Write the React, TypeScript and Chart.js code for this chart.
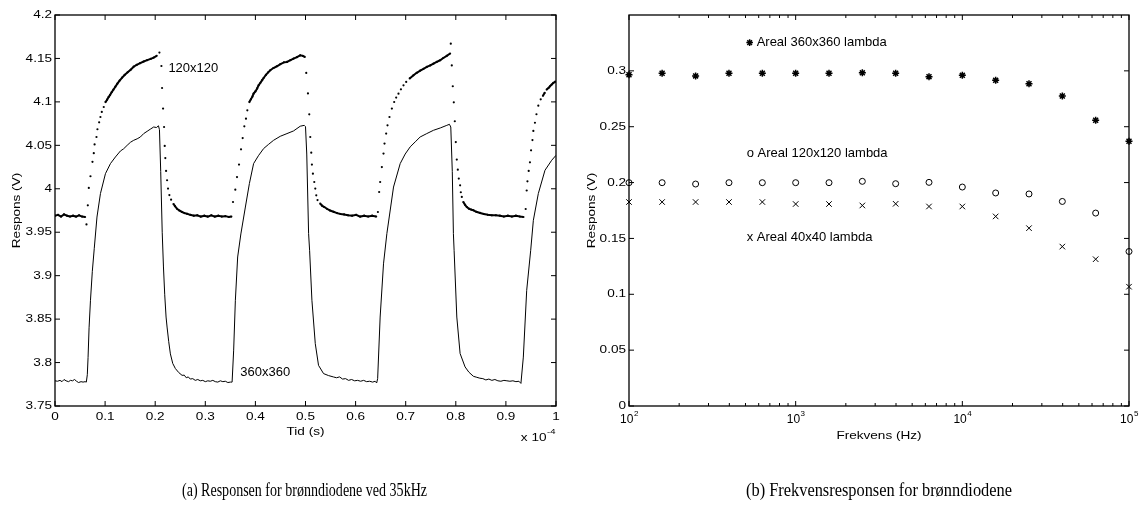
import React, { useEffect, useRef } from 'react';
import { Chart, registerables } from 'chart.js';

Chart.register(...registerables);

// ---------- (a) time response, x in units of 1e-4 s ----------
const dotTime = [
  0.000, 0.006, 0.012, 0.018, 0.024, 0.030, 0.036, 0.042, 0.048, 0.054, 0.060,
  0.0628, 0.0655, 0.0675, 0.0708, 0.0748, 0.0774, 0.0790, 0.0828, 0.0847, 0.0881, 0.0907, 0.0934, 0.0973, 0.1007,
  0.104, 0.107, 0.110, 0.113, 0.1165, 0.1205, 0.1245, 0.129, 0.134, 0.139, 0.145, 0.151, 0.157, 0.163, 0.170,
  0.177, 0.184, 0.191, 0.197, 0.203, 0.2084,
  0.2124, 0.2137, 0.2157, 0.2177, 0.2190, 0.2202, 0.2217, 0.2237, 0.2256, 0.2283, 0.2317, 0.2365, 0.2395,
  0.2436, 0.248, 0.2536, 0.2586, 0.2636, 0.270, 0.277, 0.284, 0.291, 0.298, 0.305, 0.312, 0.319, 0.326,
  0.333, 0.340, 0.347, 0.352,
  0.3553, 0.3599, 0.3633, 0.3673, 0.3713, 0.3746, 0.3779, 0.3812, 0.3839, 0.3879,
  0.391, 0.394, 0.3964, 0.400, 0.4035, 0.4064, 0.410, 0.4135, 0.4164, 0.421, 0.4255, 0.4297, 0.436, 0.443,
  0.450, 0.457, 0.463, 0.470, 0.4762, 0.483, 0.4895, 0.4945, 0.4985,
  0.5015, 0.5049, 0.5075, 0.5095, 0.5115, 0.5128, 0.5148, 0.5175, 0.5195, 0.5215, 0.524, 0.5294, 0.533,
  0.5375, 0.5427, 0.549, 0.556, 0.563, 0.570, 0.577, 0.585, 0.593, 0.601, 0.609, 0.617, 0.625, 0.633, 0.641,
  0.6445, 0.647, 0.649, 0.6524, 0.6557, 0.6577, 0.661, 0.6637, 0.6676, 0.6724, 0.677,
  0.681, 0.6856, 0.6905, 0.6956, 0.701, 0.708, 0.7155, 0.722, 0.729, 0.7355, 0.7422, 0.749, 0.7555, 0.762,
  0.7687, 0.775, 0.782, 0.7886, 0.790,
  0.792, 0.794, 0.796, 0.798, 0.800, 0.802, 0.804, 0.806, 0.8086, 0.810, 0.812, 0.815, 0.8185, 0.822,
  0.8265, 0.831, 0.835, 0.841, 0.8485, 0.856, 0.864, 0.872, 0.880, 0.888, 0.896, 0.904, 0.912, 0.920, 0.928, 0.935,
  0.9395, 0.9415, 0.943, 0.9455, 0.948, 0.9502, 0.953, 0.9548, 0.958, 0.961, 0.9647, 0.9695, 0.974, 0.9775,
  0.9814, 0.985, 0.988, 0.9915, 0.9946, 0.9986,
];
const dotVolt = [
  3.969, 3.970, 3.968, 3.9705, 3.969, 3.968, 3.969, 3.968, 3.9695, 3.968, 3.9675,
  3.959, 3.981, 4.001, 4.0144, 4.031, 4.041, 4.051, 4.0596, 4.0685, 4.0765, 4.0826, 4.0884, 4.0941, 4.0998,
  4.1025, 4.1055, 4.108, 4.111, 4.114, 4.1175, 4.121, 4.1245, 4.128, 4.131, 4.134, 4.137, 4.1405, 4.1425, 4.1445,
  4.1465, 4.148, 4.1495, 4.151, 4.153, 4.1567,
  4.1413, 4.116, 4.0923, 4.0711, 4.0493, 4.0353, 4.0205, 4.0098, 4.0002, 3.9928, 3.9875, 3.9825, 3.980,
  3.977, 3.975, 3.9733, 3.972, 3.9712, 3.970, 3.969, 3.9695, 3.968, 3.969, 3.968, 3.9695, 3.968, 3.969,
  3.968, 3.9685, 3.9675, 3.968,
  3.9848, 3.999, 4.0135, 4.0279, 4.0454, 4.0584, 4.0719, 4.0807, 4.0903, 4.0998,
  4.103, 4.106, 4.1095, 4.112, 4.1155, 4.1191, 4.122, 4.125, 4.1275, 4.131, 4.134, 4.1364, 4.139, 4.141,
  4.1435, 4.1455, 4.146, 4.148, 4.1498, 4.1515, 4.1536, 4.153, 4.1517,
  4.1333, 4.1097, 4.0857, 4.0596, 4.0416, 4.0278, 4.0174, 4.0078, 4.0002, 3.9925, 3.987, 3.983, 3.9805,
  3.979, 3.977, 3.975, 3.9735, 3.972, 3.971, 3.9705, 3.9695, 3.969, 3.970, 3.968, 3.969, 3.968, 3.969, 3.968,
  3.9733, 3.9963, 4.0078, 4.025, 4.0405, 4.052, 4.0635, 4.073, 4.0826, 4.0923, 4.0999,
  4.105, 4.1095, 4.1145, 4.1191, 4.123, 4.127, 4.1306, 4.1335, 4.136, 4.138, 4.1402, 4.142, 4.144, 4.146,
  4.1479, 4.1505, 4.153, 4.1557, 4.167,
  4.142, 4.118, 4.0995, 4.0777, 4.0538, 4.0336, 4.022, 4.0117, 4.004, 3.996, 3.9906, 3.9848, 3.9815, 3.979,
  3.977, 3.976, 3.9753, 3.9735, 3.9722, 3.971, 3.970, 3.9695, 3.9695, 3.969, 3.968, 3.969, 3.968, 3.969, 3.968, 3.9675,
  3.9767, 3.998, 4.0086, 4.0205, 4.0305, 4.0443, 4.056, 4.0666, 4.076, 4.0858, 4.0957, 4.103, 4.107, 4.1105,
  4.1142, 4.116, 4.118, 4.12, 4.1218, 4.1233,
];

const lineTime = [
  0.000, 0.005, 0.010, 0.014, 0.018, 0.022, 0.027, 0.031, 0.035, 0.039, 0.043, 0.047, 0.052, 0.056, 0.060, 0.0625,
  0.0645, 0.0660, 0.0680, 0.0708, 0.0745, 0.0784, 0.0838, 0.0907, 0.1007, 0.1107, 0.1206, 0.1306, 0.137, 0.144,
  0.1506, 0.1571, 0.164, 0.1704, 0.177, 0.1838, 0.190, 0.197, 0.2025, 0.2065, 0.2085,
  0.2110, 0.2140, 0.2165, 0.219, 0.2217, 0.2237, 0.2270, 0.2303, 0.235, 0.2403, 0.247, 0.2536,
  0.258, 0.262, 0.266, 0.270, 0.275, 0.280, 0.285, 0.290, 0.295, 0.300, 0.305, 0.310, 0.315, 0.320, 0.325,
  0.330, 0.335, 0.340, 0.345, 0.350, 0.3535,
  0.3566, 0.3600, 0.3646, 0.371, 0.380, 0.388, 0.3964, 0.406, 0.4164, 0.426, 0.4363, 0.4496, 0.463, 0.4762,
  0.4895, 0.4975, 0.5000,
  0.5025, 0.5062, 0.5082, 0.5128, 0.5195, 0.526, 0.536, 0.546, 0.556, 0.562, 0.568, 0.574, 0.580, 0.586,
  0.592, 0.598, 0.604, 0.610, 0.616, 0.622, 0.628, 0.634, 0.639, 0.642, 0.6440,
  0.6490, 0.6557, 0.6624, 0.6757, 0.689, 0.699, 0.7089, 0.719, 0.7288, 0.742, 0.7554, 0.769, 0.782, 0.7873, 0.7900,
  0.7930, 0.7952, 0.7966, 0.8020, 0.8086, 0.8185, 0.826, 0.8351, 0.842, 0.848, 0.854, 0.860, 0.866, 0.872,
  0.878, 0.884, 0.890, 0.896, 0.902, 0.908, 0.914, 0.920, 0.926, 0.930,
  0.9348, 0.9415, 0.9495, 0.9548, 0.9647, 0.978, 0.9914, 1.000,
];
const lineVolt = [
  3.779, 3.7785, 3.7795, 3.778, 3.7805, 3.779, 3.778, 3.7795, 3.779, 3.7805, 3.7785, 3.777, 3.778, 3.7775, 3.778, 3.7775,
  3.786, 3.806, 3.84, 3.8717, 3.905, 3.9315, 3.9675, 3.9945, 4.0174, 4.029, 4.0366, 4.0435, 4.046, 4.050,
  4.0535, 4.0558, 4.0575, 4.0596, 4.0635, 4.0661, 4.0685, 4.0711, 4.0705, 4.0725, 4.068,
  4.02, 3.95, 3.91, 3.878, 3.8524, 3.8409, 3.824, 3.81, 3.799, 3.7931, 3.7885, 3.7853,
  3.7855, 3.7825, 3.7835, 3.781, 3.7815, 3.7795, 3.7805, 3.779, 3.7795, 3.778, 3.779, 3.7785, 3.7795, 3.778, 3.7775,
  3.779, 3.778, 3.7785, 3.777, 3.7775, 3.7775,
  3.8143, 3.8717, 3.9215, 3.948, 3.979, 4.006, 4.029, 4.038, 4.0463, 4.051, 4.0558, 4.0604, 4.0635, 4.0666,
  4.072, 4.073, 4.0715,
  4.04, 3.9484, 3.9292, 3.8717, 3.8218, 3.7968, 3.7873, 3.785, 3.7834, 3.7825, 3.7835, 3.781, 3.7815, 3.7795,
  3.7805, 3.779, 3.7795, 3.7785, 3.7795, 3.778, 3.7785, 3.7775, 3.7785, 3.7765, 3.7815,
  3.8524, 3.9136, 3.9484, 4.002, 4.029, 4.040, 4.0482, 4.054, 4.0596, 4.0635, 4.0673, 4.070, 4.073, 4.0742, 4.0711,
  4.02, 3.9484, 3.9292, 3.8524, 3.8104, 3.795, 3.789, 3.7842, 3.783, 3.782, 3.7815, 3.780, 3.781, 3.7795,
  3.7805, 3.779, 3.7785, 3.7795, 3.779, 3.7785, 3.779, 3.778, 3.7785, 3.776,
  3.8063, 3.8831, 3.9292, 3.9637, 3.9945, 4.0213, 4.0328, 4.0385,
];

const timeTicks = [0, 0.1, 0.2, 0.3, 0.4, 0.5, 0.6, 0.7, 0.8, 0.9, 1];
const timeTickLabels = ['0', '0.1', '0.2', '0.3', '0.4', '0.5', '0.6', '0.7', '0.8', '0.9', '1'];
const voltTicks = [3.75, 3.8, 3.85, 3.9, 3.95, 4, 4.05, 4.1, 4.15, 4.2];
const voltTickLabels = ['3.75', '3.8', '3.85', '3.9', '3.95', '4', '4.05', '4.1', '4.15', '4.2'];

// ---------- (b) frequency response ----------
const freqHz = [100, 158, 251, 398, 631, 1000, 1585, 2512, 3981, 6310, 10000, 15849, 25119, 39811, 63096, 100000];
const resp360 = [0.2965, 0.2978, 0.2955, 0.2978, 0.2978, 0.2978, 0.2978, 0.2982, 0.2978, 0.2948, 0.296, 0.2915, 0.2885, 0.2775, 0.2558, 0.237];
const resp120 = [0.1999, 0.1999, 0.1987, 0.1999, 0.1999, 0.1999, 0.1999, 0.2011, 0.199, 0.2002, 0.196, 0.1907, 0.1898, 0.1831, 0.1727, 0.1383];
const resp40 = [0.1826, 0.1826, 0.1826, 0.1826, 0.1826, 0.1808, 0.1808, 0.1795, 0.181, 0.1786, 0.1786, 0.1697, 0.1592, 0.1427, 0.1314, 0.1068];

const respTicks = [0, 0.05, 0.1, 0.15, 0.2, 0.25, 0.3];
const respTickLabels = ['0', '0.05', '0.1', '0.15', '0.2', '0.25', '0.3'];
const freqMajor = [100, 1000, 10000, 100000];
const freqMajorExp = ['2', '3', '4', '5'];
const freqMinor = [200, 300, 400, 500, 600, 700, 800, 900, 2000, 3000, 4000, 5000, 6000, 7000, 8000, 9000,
  20000, 30000, 40000, 50000, 60000, 70000, 80000, 90000];

const labels360 = 'Areal 360x360 lambda';
const labels120 = 'o Areal 120x120 lambda';
const labels40 = 'x Areal 40x40 lambda';
const captionA = '(a) Responsen for brønndiodene ved 35kHz';
const captionB = '(b) Frekvensresponsen for brønndiodene';

// ---------- drawing helpers ----------
const SANS = '"Liberation Sans", Arial, Helvetica, sans-serif';
const SX = 1.18;

function txt(ctx: CanvasRenderingContext2D, s: string, x: number, y: number, size: number,
  align: CanvasTextAlign = 'center', sx = SX, rot = false) {
  ctx.save();
  ctx.translate(x, y);
  if (rot) ctx.rotate(-Math.PI / 2);
  ctx.scale(sx, 1);
  ctx.font = `${size}px ${SANS}`;
  ctx.textAlign = align;
  ctx.textBaseline = 'middle';
  ctx.fillStyle = '#000';
  ctx.fillText(s, 0, 0);
  ctx.restore();
}

function caption(ctx: CanvasRenderingContext2D, s: string, cx: number, cy: number, size: number, width: number) {
  ctx.save();
  ctx.font = `${size}px "Liberation Serif", "Times New Roman", serif`;
  const w = ctx.measureText(s).width;
  ctx.translate(cx, cy);
  ctx.scale(width / w, 1);
  ctx.textAlign = 'center';
  ctx.textBaseline = 'middle';
  ctx.fillStyle = '#000';
  ctx.fillText(s, 0, 0);
  ctx.restore();
}

function frame(ctx: CanvasRenderingContext2D, a: any) {
  ctx.save();
  ctx.strokeStyle = '#000';
  ctx.lineWidth = 1.3;
  ctx.strokeRect(a.left, a.top, a.right - a.left, a.bottom - a.top);
  ctx.restore();
}

const leftPlugin = {
  id: 'leftDecor',
  afterDraw(chart: any) {
    const ctx: CanvasRenderingContext2D = chart.ctx;
    const a = chart.chartArea;
    const xs = chart.scales.x;
    const ys = chart.scales.y;
    frame(ctx, a);
    ctx.save();
    ctx.strokeStyle = '#000';
    ctx.lineWidth = 1;
    ctx.beginPath();
    timeTicks.forEach((v) => {
      const p = xs.getPixelForValue(v);
      ctx.moveTo(p, a.bottom); ctx.lineTo(p, a.bottom - 5);
      ctx.moveTo(p, a.top); ctx.lineTo(p, a.top + 5);
    });
    voltTicks.forEach((v) => {
      const p = ys.getPixelForValue(v);
      ctx.moveTo(a.left, p); ctx.lineTo(a.left + 5, p);
      ctx.moveTo(a.right, p); ctx.lineTo(a.right - 5, p);
    });
    ctx.stroke();
    ctx.restore();
    timeTicks.forEach((v, i) => txt(ctx, timeTickLabels[i], xs.getPixelForValue(v), a.bottom + 10.5, 11.5));
    voltTicks.forEach((v, i) => txt(ctx, voltTickLabels[i], a.left - 3, ys.getPixelForValue(v), 11.5, 'right'));
    txt(ctx, 'Tid (s)', (a.left + a.right) / 2, a.bottom + 26, 11.5);
    txt(ctx, 'x 10', a.right - 9.5, a.bottom + 32, 11.5, 'right');
    txt(ctx, '-4', a.right - 9, a.bottom + 26, 8, 'left');
    txt(ctx, 'Respons (V)', 17, (a.top + a.bottom) / 2, 11.5, 'center', SX, true);
    txt(ctx, '120x120', xs.getPixelForValue(0.2263), ys.getPixelForValue(4.1387), 13, 'left', 1);
    txt(ctx, '360x360', xs.getPixelForValue(0.3699), ys.getPixelForValue(3.789), 13, 'left', 1);
    caption(ctx, captionA, 304.5, 491, 19, 245);
  },
};

function drawStar(ctx: CanvasRenderingContext2D, x: number, y: number, r: number) {
  const d = r * Math.SQRT1_2;
  ctx.save();
  ctx.strokeStyle = '#000';
  ctx.lineWidth = 1.5;
  ctx.beginPath();
  ctx.moveTo(x - r, y); ctx.lineTo(x + r, y);
  ctx.moveTo(x, y - r); ctx.lineTo(x, y + r);
  ctx.moveTo(x - d, y - d); ctx.lineTo(x + d, y + d);
  ctx.moveTo(x - d, y + d); ctx.lineTo(x + d, y - d);
  ctx.stroke();
  ctx.restore();
}

const rightPlugin = {
  id: 'rightDecor',
  afterDraw(chart: any) {
    const ctx: CanvasRenderingContext2D = chart.ctx;
    const a = chart.chartArea;
    const xs = chart.scales.x;
    const ys = chart.scales.y;
    frame(ctx, a);
    ctx.save();
    ctx.strokeStyle = '#000';
    ctx.lineWidth = 1;
    ctx.beginPath();
    freqMajor.forEach((v) => {
      const p = xs.getPixelForValue(v);
      ctx.moveTo(p, a.bottom); ctx.lineTo(p, a.bottom - 5);
      ctx.moveTo(p, a.top); ctx.lineTo(p, a.top + 5);
    });
    freqMinor.forEach((v) => {
      const p = xs.getPixelForValue(v);
      ctx.moveTo(p, a.bottom); ctx.lineTo(p, a.bottom - 3);
      ctx.moveTo(p, a.top); ctx.lineTo(p, a.top + 3);
    });
    respTicks.forEach((v) => {
      const p = ys.getPixelForValue(v);
      ctx.moveTo(a.left, p); ctx.lineTo(a.left + 5, p);
      ctx.moveTo(a.right, p); ctx.lineTo(a.right - 5, p);
    });
    ctx.stroke();
    ctx.restore();
    respTicks.forEach((v, i) => txt(ctx, respTickLabels[i], a.left - 3, ys.getPixelForValue(v), 11.5, 'right'));
    freqMajor.forEach((v, i) => {
      const p = xs.getPixelForValue(v);
      ctx.font = `12px ${SANS}`;
      const w10 = ctx.measureText('10').width;
      ctx.font = `8px ${SANS}`;
      const we = ctx.measureText(freqMajorExp[i]).width;
      const start = p - (w10 + we) / 2;
      txt(ctx, '10', start, a.bottom + 14, 12, 'left', 1);
      txt(ctx, freqMajorExp[i], start + w10 + 0.5, a.bottom + 8, 8, 'left', 1);
    });
    txt(ctx, 'Frekvens (Hz)', (a.left + a.right) / 2, a.bottom + 30, 11.5);
    txt(ctx, 'Respons (V)', 12, (a.top + a.bottom) / 2, 11.5, 'center', SX, true);
    const ax = xs.getPixelForValue(508);
    drawStar(ctx, ax + 3, ys.getPixelForValue(0.3253), 3.3);
    txt(ctx, labels360, ax + 10, ys.getPixelForValue(0.3253), 13, 'left', 1);
    txt(ctx, labels120, ax, ys.getPixelForValue(0.2257), 13, 'left', 1);
    txt(ctx, labels40, ax, ys.getPixelForValue(0.1508), 13, 'left', 1);
    caption(ctx, captionB, 299, 491, 19, 266);
  },
};

export default function App() {
  const leftRef = useRef<HTMLCanvasElement>(null);
  const rightRef = useRef<HTMLCanvasElement>(null);

  useEffect(() => {
    const hidden = 'rgba(0,0,0,0)';
    const c1 = new Chart(leftRef.current as HTMLCanvasElement, {
      type: 'scatter',
      data: {
        datasets: [
          {
            label: '360x360',
            data: lineTime.map((t, i) => ({ x: t, y: lineVolt[i] })),
            showLine: true,
            borderColor: '#000',
            borderWidth: 1,
            pointRadius: 0,
            tension: 0,
          },
          {
            label: '120x120',
            data: dotTime.map((t, i) => ({ x: t, y: dotVolt[i] })),
            showLine: true,
            borderColor: '#000',
            borderWidth: 2,
            pointRadius: 1.1,
            pointBorderWidth: 0,
            pointBackgroundColor: '#000',
            tension: 0,
            segment: {
              borderColor: (c: any) =>
                Math.abs(c.p1.y - c.p0.y) > 3.2 || Math.abs(c.p1.x - c.p0.x) > 7 ? hidden : '#000',
            },
          },
        ],
      },
      options: {
        responsive: false,
        animation: false,
        events: [],
        layout: { padding: { left: 55, right: 24, top: 15, bottom: 106 } },
        plugins: { legend: { display: false }, tooltip: { enabled: false } },
        scales: {
          x: { type: 'linear', min: 0, max: 1, display: false },
          y: { type: 'linear', min: 3.75, max: 4.2, display: false },
        },
      },
      plugins: [leftPlugin],
    } as any);

    const c2 = new Chart(rightRef.current as HTMLCanvasElement, {
      type: 'scatter',
      data: {
        datasets: [
          {
            label: 'Areal 360x360 lambda',
            data: freqHz.map((f, i) => ({ x: f, y: resp360[i] })),
            pointStyle: 'star',
            pointRadius: 3.5,
            borderColor: '#000',
            pointBorderWidth: 1.5,
            backgroundColor: hidden,
            clip: false,
          },
          {
            label: 'Areal 120x120 lambda',
            data: freqHz.map((f, i) => ({ x: f, y: resp120[i] })),
            pointStyle: 'circle',
            pointRadius: 3,
            borderColor: '#000',
            pointBorderWidth: 1,
            backgroundColor: hidden,
            clip: false,
          },
          {
            label: 'Areal 40x40 lambda',
            data: freqHz.map((f, i) => ({ x: f, y: resp40[i] })),
            pointStyle: 'crossRot',
            pointRadius: 3.9,
            borderColor: '#000',
            pointBorderWidth: 1,
            backgroundColor: hidden,
            clip: false,
          },
        ],
      },
      options: {
        responsive: false,
        animation: false,
        events: [],
        layout: { padding: { left: 49, right: 12, top: 15, bottom: 106 } },
        plugins: { legend: { display: false }, tooltip: { enabled: false } },
        scales: {
          x: { type: 'logarithmic', min: 100, max: 100000, display: false },
          y: { type: 'linear', min: 0, max: 0.35, display: false },
        },
      },
      plugins: [rightPlugin],
    } as any);

    return () => {
      c1.destroy();
      c2.destroy();
    };
  }, []);

  return (
    <div style={{ position: 'fixed', left: 0, top: 0, width: 1141, height: 512, background: '#fff' }}>
      <canvas ref={leftRef} width={580} height={512} style={{ position: 'absolute', left: 0, top: 0 }} />
      <canvas ref={rightRef} width={561} height={512} style={{ position: 'absolute', left: 580, top: 0 }} />
    </div>
  );
}
